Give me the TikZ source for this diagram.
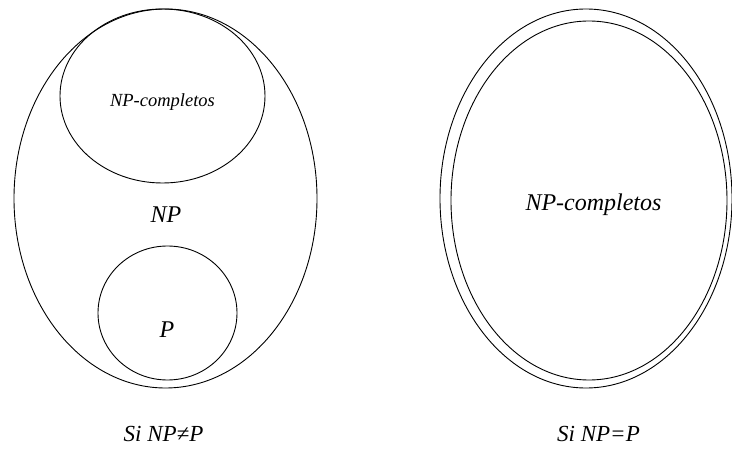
\documentclass[tikz,border=0pt]{standalone}
\usepackage{fontspec}
\setmainfont{Liberation Serif}
\usetikzlibrary{shapes.geometric}

\begin{document}
\begin{tikzpicture}[x=1pt, y=-1pt,
    conjunto/.style={ellipse, draw, line width=0.9pt, inner sep=0pt},
    etiqueta/.style={anchor=base, inner sep=0pt, font=\itshape}]
      \useasboundingbox (0,0) rectangle (732,449);

      % caso NP distinto de P
      \node[conjunto, minimum width=303pt, minimum height=379pt] (np) at (165.5,198.5) {};
      \node[conjunto, minimum width=205pt, minimum height=174pt] (npc) at (162.5,96) {};
      \node[conjunto, minimum width=139pt, minimum height=134pt] (p) at (167.5,313) {};

      \node[etiqueta, font=\itshape\fontsize{18.5}{20}\selectfont] (npcl) at (162.5,107) {NP-completos};
      \node[etiqueta, font=\itshape\fontsize{24}{26}\selectfont] (npl) at (166,223) {NP};
      \node[etiqueta, font=\itshape\fontsize{24}{26}\selectfont] (pl) at (167,338) {P};
      \node[etiqueta, font=\itshape\fontsize{23}{25}\selectfont] (si1) at (163.5,442) {Si NP≠P};

      % caso NP igual a P
      \node[conjunto, minimum width=292pt, minimum height=379pt] (ext) at (586,198.5) {};
      \node[conjunto, minimum width=276pt, minimum height=359pt] (int) at (589,200.5) {};

      \node[etiqueta, font=\itshape\fontsize{24}{26}\selectfont] (npc2) at (593.5,211) {NP-completos};
      \node[etiqueta, font=\itshape\fontsize{23}{25}\selectfont] (si2) at (598.5,442) {Si NP=P};
    \end{tikzpicture}
\end{document}
